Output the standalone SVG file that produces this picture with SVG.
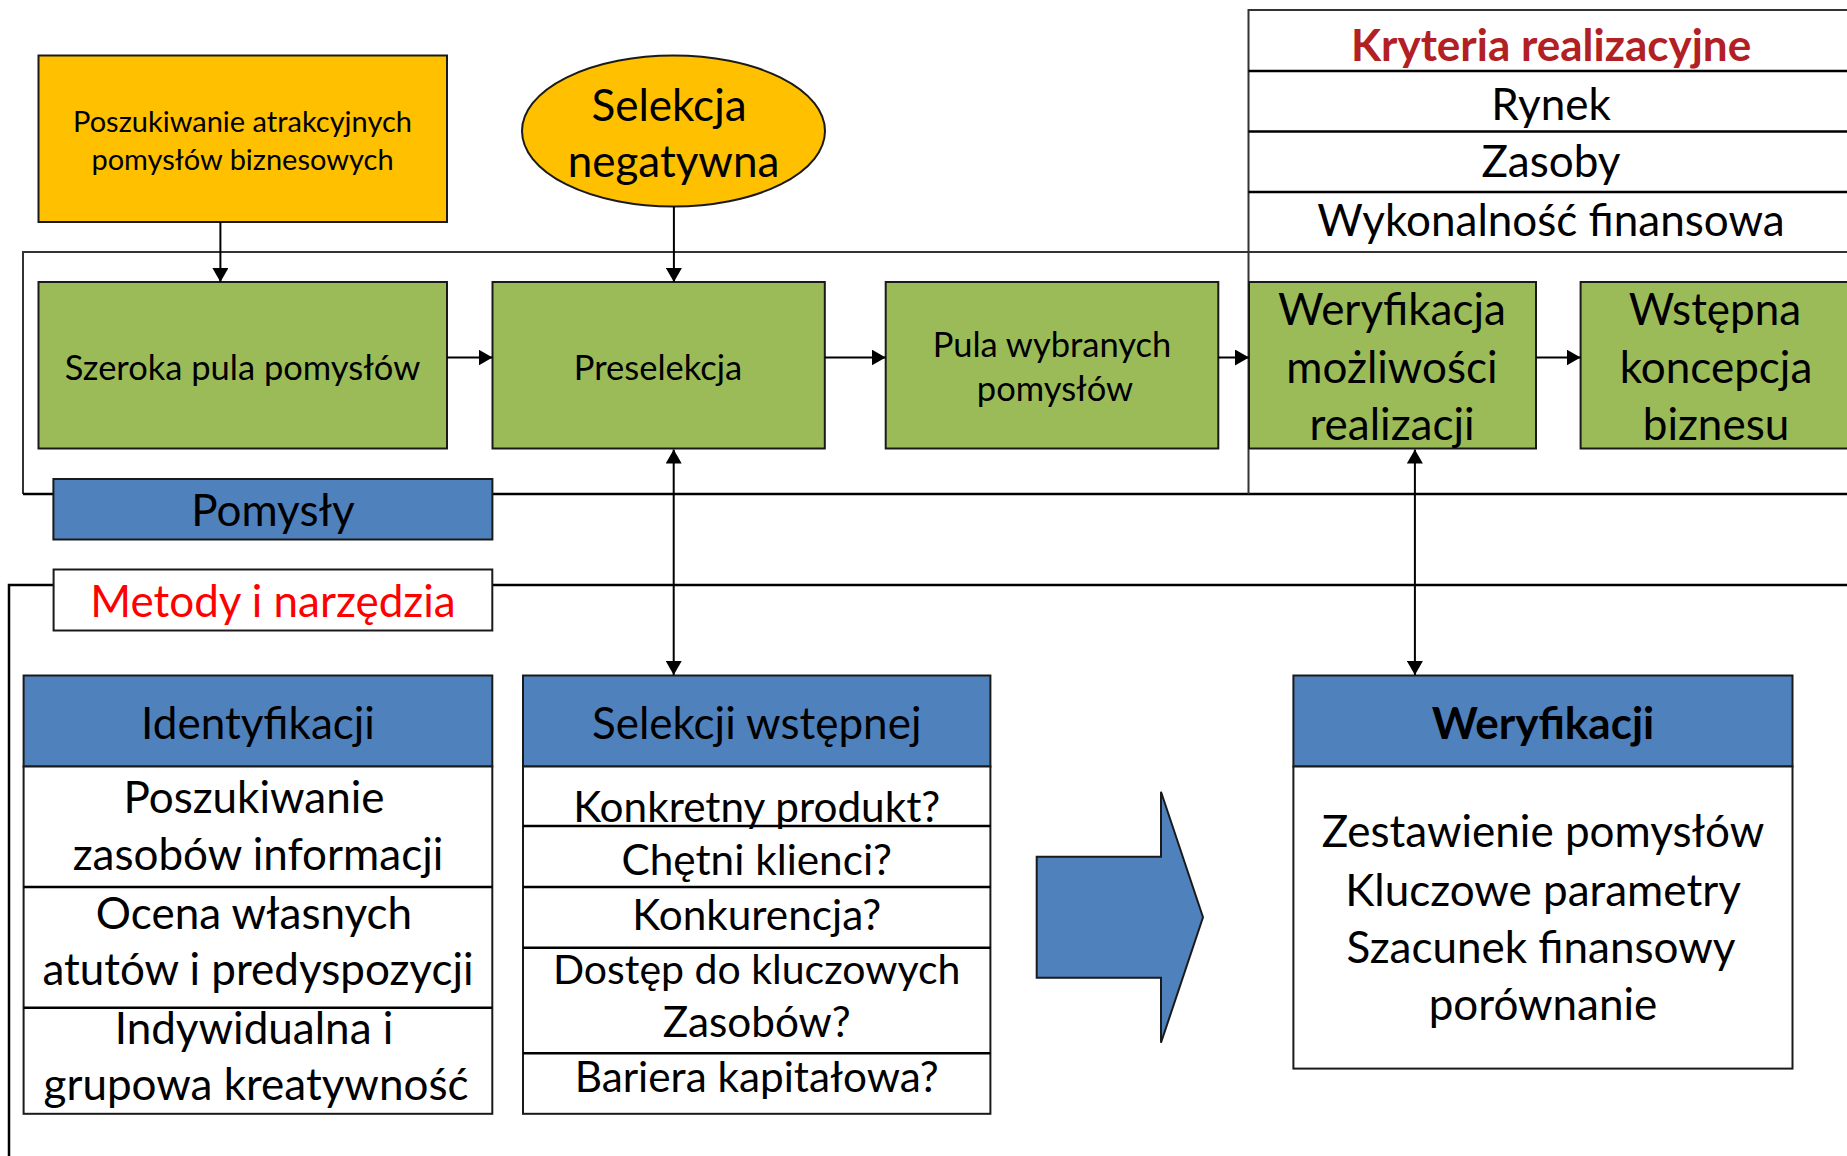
<svg xmlns="http://www.w3.org/2000/svg" width="1847" height="1156" viewBox="0 0 1847 1156">
  <defs>
    <marker id="arrowhead" viewBox="0 0 14 16" refX="14" refY="8" markerWidth="14" markerHeight="16" markerUnits="userSpaceOnUse" orient="auto-start-reverse">
      <path d="M0,0 L14,8 L0,16 Z" fill="#000"/>
    </marker>
    <style>
      text { font-family: Lato, "Liberation Sans", sans-serif; fill: #000; text-anchor: middle; }
      .big { font-size: 44px; }
      .q { font-size: 42.3px; }
      .mid { font-size: 34.5px; }
      .small { font-size: 29px; }
      .bold { font-weight: bold; }
      .yellow { fill: #FFC000; stroke: #1a1a1a; stroke-width: 2; }
      .green { fill: #9BBB59; stroke: #1a1a1a; stroke-width: 2; }
      .blue { fill: #4F81BD; stroke: #1a1a1a; stroke-width: 2; }
      .white { fill: #FFFFFF; stroke: #1a1a1a; stroke-width: 2; }
      .rule { fill: none; stroke: #000; stroke-width: 2.5; }
      .thin { fill: none; stroke: #333; stroke-width: 2; }
      .conn { fill: none; stroke: #000; stroke-width: 2; }
    </style>
  </defs>

  <rect width="1847" height="1156" fill="#FFFFFF"/>

  <!-- frames around the idea stage and the methods area -->
  <g id="frames">
    <path class="thin" d="M1860,252 H23 V494"/>
    <path class="rule" d="M23,494 H1860"/>
    <path class="rule" d="M1860,585 H9 V1160"/>
  </g>

  <!-- realisation criteria table -->
  <g id="criteria">
    <rect x="1248.5" y="10" width="620" height="242" fill="#FFFFFF" stroke="#333" stroke-width="2"/>
    <path class="rule" d="M1248.5,71 H1860 M1248.5,131.5 H1860 M1248.5,192 H1860"/>
    <path class="thin" d="M1248.5,252 V494"/>
    <text class="big bold" x="1551" y="61" style="fill:#B22024">Kryteria realizacyjne</text>
    <text class="big" x="1551" y="120">Rynek</text>
    <text class="big" x="1551" y="177">Zasoby</text>
    <text class="big" x="1551" y="236">Wykonalność finansowa</text>
  </g>

  <g id="search">
    <rect class="yellow" x="38.5" y="55.5" width="408.5" height="166.5"/>
    <text class="small" x="242.5" y="132">Poszukiwanie atrakcyjnych</text>
    <text class="small" x="242.5" y="169.5">pomysłów biznesowych</text>
  </g>

  <g id="negative-selection">
    <ellipse class="yellow" cx="673.5" cy="131" rx="151.5" ry="75.5"/>
    <text class="big" x="669" y="120.5">Selekcja</text>
    <text class="big" x="673.5" y="177">negatywna</text>
  </g>

  <g id="wide-pool">
    <rect class="green" x="38.5" y="282" width="408.5" height="166.5"/>
    <text class="mid" x="242.5" y="380">Szeroka pula pomysłów</text>
  </g>

  <g id="preselection">
    <rect class="green" x="492.5" y="282" width="332.3" height="166.5"/>
    <text class="mid" x="658" y="380">Preselekcja</text>
  </g>

  <g id="selected-pool">
    <rect class="green" x="885.7" y="282" width="332.6" height="166.5"/>
    <text class="mid" x="1052" y="357">Pula wybranych</text>
    <text class="mid" x="1055" y="401">pomysłów</text>
  </g>

  <g id="feasibility">
    <rect class="green" x="1249" y="282" width="287" height="166.5"/>
    <text class="big" x="1392" y="325">Weryfikacja</text>
    <text class="big" x="1392" y="382.5">możliwości</text>
    <text class="big" x="1392" y="439.5">realizacji</text>
  </g>

  <g id="business-concept">
    <rect class="green" x="1580.6" y="282" width="275" height="166.5"/>
    <text class="big" x="1715" y="325">Wstępna</text>
    <text class="big" x="1716" y="382.5">koncepcja</text>
    <text class="big" x="1716" y="439.5">biznesu</text>
  </g>

  <g id="ideas-label">
    <rect class="blue" x="53.4" y="479" width="439" height="60.5"/>
    <text class="big" x="273" y="525.5">Pomysły</text>
  </g>

  <g id="methods-label">
    <rect class="white" x="53.6" y="569.5" width="438.7" height="61"/>
    <text class="big" x="273" y="617" style="fill:#FF0000">Metody i narzędzia</text>
  </g>

  <g id="identification">
    <rect class="blue" x="23.6" y="675.5" width="468.7" height="91"/>
    <rect class="white" x="23.6" y="766.5" width="468.7" height="347.3"/>
    <path class="rule" d="M23.6,887 H492.3 M23.6,1007.7 H492.3"/>
    <text class="big" x="258" y="738.7">Identyfikacji</text>
    <text class="big" x="254" y="813">Poszukiwanie</text>
    <text class="big" x="258" y="870">zasobów informacji</text>
    <text class="big" x="254" y="929">Ocena własnych</text>
    <text class="big" x="258" y="984.6">atutów i predyspozycji</text>
    <text class="big" x="254" y="1044">Indywidualna i</text>
    <text class="big" x="256" y="1099.8">grupowa kreatywność</text>
  </g>

  <g id="preselection-methods">
    <rect class="blue" x="523" y="675.5" width="467.4" height="91"/>
    <rect class="white" x="523" y="766.5" width="467.4" height="347.3"/>
    <path class="rule" d="M523,826 H990.4 M523,887 H990.4 M523,947.7 H990.4 M523,1053.3 H990.4"/>
    <text class="big" x="756.7" y="738.7">Selekcji wstępnej</text>
    <text class="q" x="756.7" y="821.5">Konkretny produkt?</text>
    <text class="q" x="756.7" y="874.5">Chętni klienci?</text>
    <text class="q" x="756.7" y="929.5">Konkurencja?</text>
    <text class="q" x="756.7" y="984" style="font-size:41px">Dostęp do kluczowych</text>
    <text class="q" x="756.7" y="1037">Zasobów?</text>
    <text class="q" x="756.7" y="1091.5">Bariera kapitałowa?</text>
  </g>

  <g id="transition-arrow">
    <polygon class="blue" points="1036.7,856.8 1161,856.8 1161,791.8 1203,917.3 1161,1042.7 1161,977.7 1036.7,977.7"/>
  </g>

  <g id="verification">
    <rect class="blue" x="1293.4" y="675.5" width="499.1" height="91"/>
    <rect class="white" x="1293.4" y="766.5" width="499.1" height="302.1"/>
    <text class="big bold" x="1543" y="739">Weryfikacji</text>
    <text class="big" x="1543" y="847">Zestawienie pomysłów</text>
    <text class="big" x="1543" y="906">Kluczowe parametry</text>
    <text class="big" x="1541" y="963">Szacunek finansowy</text>
    <text class="big" x="1543" y="1020">porównanie</text>
  </g>

  <g id="connectors">
    <line class="conn" x1="220.4" y1="222" x2="220.4" y2="282" marker-end="url(#arrowhead)"/>
    <line class="conn" x1="673.9" y1="206.5" x2="673.9" y2="282" marker-end="url(#arrowhead)"/>
    <line class="conn" x1="447" y1="357.5" x2="492.5" y2="357.5" marker-end="url(#arrowhead)"/>
    <line class="conn" x1="824.8" y1="357.5" x2="885.7" y2="357.5" marker-end="url(#arrowhead)"/>
    <line class="conn" x1="1218.3" y1="357.5" x2="1249" y2="357.5" marker-end="url(#arrowhead)"/>
    <line class="conn" x1="1536" y1="357.5" x2="1580.6" y2="357.5" marker-end="url(#arrowhead)"/>
    <line class="conn" x1="673.7" y1="449.5" x2="673.7" y2="675" marker-start="url(#arrowhead)" marker-end="url(#arrowhead)"/>
    <line class="conn" x1="1414.9" y1="449.5" x2="1414.9" y2="675" marker-start="url(#arrowhead)" marker-end="url(#arrowhead)"/>
  </g>
</svg>
